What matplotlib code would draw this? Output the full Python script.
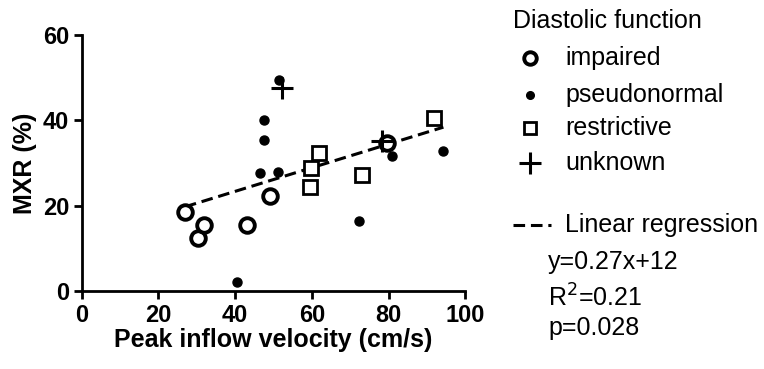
import matplotlib.pyplot as plt
from matplotlib.lines import Line2D
import numpy as np

plt.rcParams['font.family'] = ['Liberation Sans', 'DejaVu Sans']

# Peak inflow velocity (cm/s) vs MXR (%), by diastolic function group
impaired_x = [26.9, 30.3, 31.9, 43.1, 49.1, 79.5]
impaired_y = [18.5, 12.4, 15.5, 15.5, 22.3, 34.6]
pseudo_x = [47.5, 47.5, 46.5, 51.2, 40.5, 51.4, 72.3, 80.9, 94.3]
pseudo_y = [40.1, 35.4, 27.7, 28.0, 2.1, 49.4, 16.5, 31.7, 32.8]
restr_x = [61.9, 59.8, 59.5, 73.1, 91.9]
restr_y = [32.4, 28.9, 24.5, 27.3, 40.6]
unknown_x = [52.2, 78.3]
unknown_y = [47.6, 35.2]

slope = 0.277
intercept = 12.3
group_labels = ['impaired', 'pseudonormal', 'restrictive', 'unknown']
reg_text = ['y=0.27x+12', 'R$^2$=0.21', 'p=0.028']

W, H = 764, 369
fig = plt.figure(figsize=(W / 100, H / 100), dpi=100)
ax = fig.add_axes([0.107, 0.211, 0.502, 0.694])

dash = (0, (3.8, 1.9))
all_x = impaired_x + pseudo_x + restr_x + unknown_x
xs = np.array([min(all_x), max(all_x)])
ax.plot(xs, slope * xs + intercept, color='black', lw=2.2, ls=dash, zorder=1)

styles = [
    dict(marker='o', ms=10.5, mfc='white', mec='black', mew=2.8),
    dict(marker='o', ms=6.5, color='black'),
    dict(marker='s', ms=10, mfc='white', mec='black', mew=2.0),
    dict(marker='+', ms=16, color='black', mew=2.2),
]
ax.plot(impaired_x, impaired_y, ls='none', zorder=3, **styles[0])
ax.plot(pseudo_x, pseudo_y, ls='none', zorder=4, **styles[1])
ax.plot(restr_x, restr_y, ls='none', zorder=3, **styles[2])
ax.plot(unknown_x, unknown_y, ls='none', zorder=5, **styles[3])

ax.set_xlim(0, 100)
ax.set_ylim(0, 60)
ax.set_xticks([0, 20, 40, 60, 80, 100])
ax.set_yticks([0, 20, 40, 60])
for s in ['top', 'right']:
    ax.spines[s].set_visible(False)
for s in ['left', 'bottom']:
    ax.spines[s].set_linewidth(2)
ax.tick_params(width=2, length=6, labelsize=17, pad=3)
for lab in ax.get_xticklabels() + ax.get_yticklabels():
    lab.set_fontweight('bold')
ax.set_xlabel('Peak inflow velocity (cm/s)', fontsize=18, fontweight='bold', labelpad=1)
ax.set_ylabel('MXR (%)', fontsize=18, fontweight='bold', labelpad=4)


# legend drawn by hand, positions in figure pixels from the top-left
def fx(px):
    return px / W


def fy(py):
    return 1 - py / H


fig.text(fx(513), fy(21), 'Diastolic function', fontsize=18, va='center')
key_y = [58, 95, 128, 163]
key_ms = [9, 5.5, 9, 16]
for st, ms, lab, y in zip(styles, key_ms, group_labels, key_y):
    st = dict(st, ms=ms)
    fig.add_artist(Line2D([fx(530)], [fy(y)], transform=fig.transFigure, ls='none', **st))
    fig.text(fx(565), fy(y), lab, fontsize=18, va='center')

fig.add_artist(Line2D([fx(513), fx(551)], [fy(225), fy(225)], transform=fig.transFigure,
                      color='black', lw=2.2, ls=dash))
fig.text(fx(565), fy(225), 'Linear regression', fontsize=18, va='center')
for t, y in zip(reg_text, [262, 298, 328]):
    fig.text(fx(548), fy(y), t, fontsize=18, va='center')

fig.savefig('out.png', dpi=100)
